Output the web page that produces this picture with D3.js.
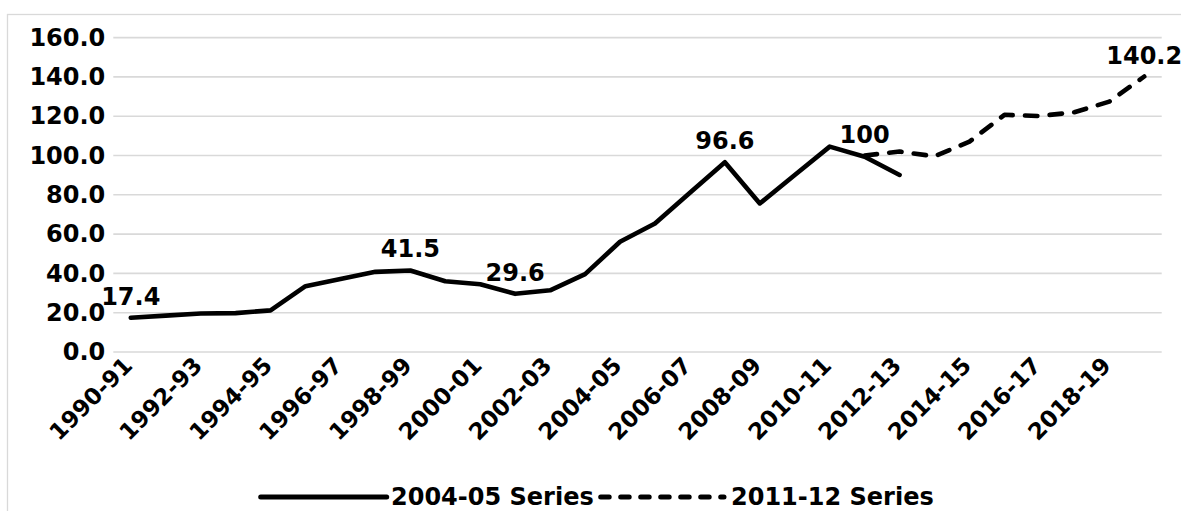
<!DOCTYPE html>
<html>
<head>
<meta charset="utf-8">
<script src="https://cdn.jsdelivr.net/npm/d3@7"></script>
<style>
  html, body { margin: 0; padding: 0; background: #fff; }
  svg { display: block; }
  text { font-family: "DejaVu Sans", sans-serif; font-weight: bold; fill: #000; }
</style>
</head>
<body>
<svg id="chart" width="1181" height="511"></svg>
<script>
// Fiscal years on the category axis
const years = [
  "1990-91","1991-92","1992-93","1993-94","1994-95","1995-96","1996-97","1997-98",
  "1998-99","1999-00","2000-01","2001-02","2002-03","2003-04","2004-05","2005-06",
  "2006-07","2007-08","2008-09","2009-10","2010-11","2011-12","2012-13","2013-14",
  "2014-15","2015-16","2016-17","2017-18","2018-19","2019-20"
];

// Index values, base 2004-05 (1990-91 to 2012-13)
const series0405Years = years.slice(0, 23);
const series0405 = [
  17.4, 18.5, 19.6, 19.8, 21.2, 33.5, 37.2, 40.8, 41.5, 36.0, 34.5, 29.6,
  31.4, 39.6, 56.1, 65.4, 81.0, 96.6, 75.6, 90.1, 104.5, 99.4, 90.1
];

// Index values, base 2011-12 (2011-12 to 2019-20)
const series1112Years = years.slice(21);
const series1112 = [100, 102.0, 99.6, 107.1, 120.7, 120.1, 122.0, 127.4, 140.2];

// Points that carry a value label
const labelled0405 = ["1990-91", "1998-99", "2001-02", "2007-08"];
const labelled1112 = ["2011-12", "2019-20"];

// Value axis ticks
const yTicks = [0, 20, 40, 60, 80, 100, 120, 140, 160];

const seriesNames = ["2004-05 Series", "2011-12 Series"];

const svg = d3.select("#chart");

// Chart area outline (only the top and left edges fall inside the page)
svg.append("rect")
  .attr("x", 7.5).attr("y", 14.5)
  .attr("width", 1400).attr("height", 800)
  .attr("fill", "none")
  .attr("stroke", "#d9d9d9")
  .attr("stroke-width", 1.3);

const plot = { left: 113.3, right: 1161.7, top: 37.6, bottom: 352 };

const x = d3.scaleBand()
  .domain(years)
  .range([plot.left, plot.right])
  .paddingInner(0).paddingOuter(0);
const cx = d => x(d) + x.bandwidth() / 2;

const y = d3.scaleLinear()
  .domain([0, 160])
  .range([plot.bottom, plot.top]);

// Horizontal gridlines
svg.append("g")
  .selectAll("line")
  .data(yTicks)
  .join("line")
  .attr("x1", plot.left).attr("x2", plot.right)
  .attr("y1", d => y(d)).attr("y2", d => y(d))
  .attr("stroke", "#d9d9d9")
  .attr("stroke-width", 1.6);

// Value axis labels
const yAxis = d3.axisLeft(y)
  .tickValues(yTicks)
  .tickFormat(d3.format(".1f"))
  .tickSize(0)
  .tickPadding(0);
svg.append("g")
  .attr("transform", `translate(${plot.left - 8},0)`)
  .call(yAxis)
  .call(g => g.select(".domain").remove())
  .selectAll("text")
  .attr("font-size", 24)
  .attr("font-family", "DejaVu Sans")
  .attr("font-weight", "bold")
  .attr("fill", "#000");

// Category axis labels, every other year, slanted
const xAxis = d3.axisBottom(x)
  .tickValues(years.filter((d, i) => i % 2 === 0))
  .tickSize(0);
svg.append("g")
  .attr("transform", `translate(0,${plot.bottom})`)
  .call(xAxis)
  .call(g => g.select(".domain").remove())
  .selectAll("text")
  .attr("font-size", 23)
  .attr("font-family", "DejaVu Sans")
  .attr("font-weight", "bold")
  .attr("fill", "#000")
  .attr("text-anchor", "end")
  .attr("dy", null)
  .attr("y", null)
  .attr("transform", "translate(3,15) rotate(-45)");

const line = d3.line()
  .x(d => cx(d[0]))
  .y(d => y(d[1]));

const pts0405 = series0405Years.map((d, i) => [d, series0405[i]]);
const pts1112 = series1112Years.map((d, i) => [d, series1112[i]]);

svg.append("path")
  .datum(pts0405)
  .attr("d", line)
  .attr("fill", "none")
  .attr("stroke", "#000")
  .attr("stroke-width", 4.6)
  .attr("stroke-linejoin", "round")
  .attr("stroke-linecap", "round");

svg.append("path")
  .datum(pts1112)
  .attr("d", line)
  .attr("fill", "none")
  .attr("stroke", "#000")
  .attr("stroke-width", 4.6)
  .attr("stroke-dasharray", "12.4,12.3")
  .attr("stroke-linejoin", "round")
  .attr("stroke-linecap", "round");

// Value labels above selected points
const labels = pts0405.filter(p => labelled0405.includes(p[0]))
  .concat(pts1112.filter(p => labelled1112.includes(p[0])));
svg.append("g")
  .selectAll("text")
  .data(labels)
  .join("text")
  .attr("x", d => cx(d[0]))
  .attr("y", d => y(d[1]) - 13)
  .attr("text-anchor", "middle")
  .attr("font-size", 24)
  .text(d => String(d[1]));

// Legend
const legend = svg.append("g");
const legendItems = [
  { name: seriesNames[0], x0: 260.7, x1: 386.7, tx: 391, dash: null },
  { name: seriesNames[1], x0: 600.7, x1: 724, tx: 731, dash: "8.5,11.5" }
];
legendItems.forEach(it => {
  legend.append("line")
    .attr("x1", it.x0).attr("x2", it.x1)
    .attr("y1", 497).attr("y2", 497)
    .attr("stroke", "#000")
    .attr("stroke-width", 5)
    .attr("stroke-linecap", "round")
    .attr("stroke-dasharray", it.dash);
  legend.append("text")
    .attr("x", it.tx).attr("y", 505)
    .attr("font-size", 24)
    .text(it.name);
});
</script>
</body>
</html>
